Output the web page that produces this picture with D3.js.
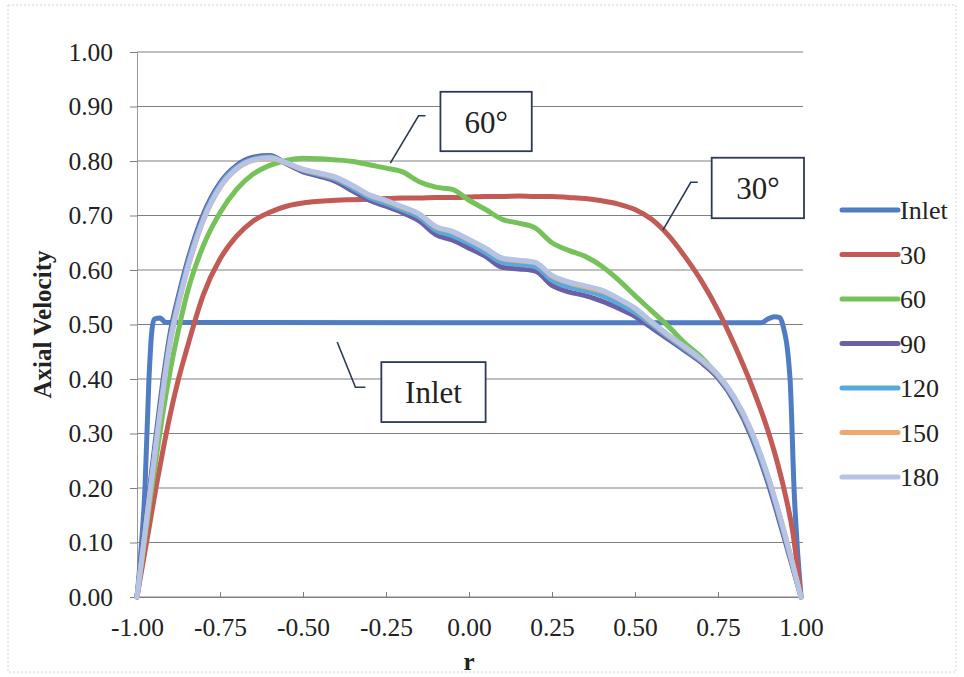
<!DOCTYPE html>
<html>
<head>
<meta charset="utf-8">
<script src="https://cdn.jsdelivr.net/npm/d3@7"></script>
<style>
  body { margin: 0; background: #fff; }
  svg { font-family: "Liberation Serif", "Times New Roman", serif; }
</style>
</head>
<body>
<svg id="chart" width="964" height="677"></svg>
<script>
// radial positions shared by the developed profiles
const rGrid = [-1, -0.98, -0.96, -0.94, -0.92, -0.9, -0.875, -0.85, -0.8, -0.75, -0.7, -0.65, -0.6, -0.55, -0.5, -0.45, -0.4, -0.35, -0.3, -0.25, -0.2, -0.15, -0.1, -0.05, 0, 0.05, 0.1, 0.15, 0.2, 0.25, 0.3, 0.35, 0.4, 0.45, 0.5, 0.55, 0.6, 0.65, 0.7, 0.75, 0.8, 0.85, 0.9, 0.925, 0.95, 0.975, 1];

const v30 = [0, 0.07, 0.14, 0.21, 0.275, 0.335, 0.4, 0.455, 0.555, 0.62, 0.662, 0.69, 0.706, 0.717, 0.723, 0.726, 0.728, 0.729, 0.73, 0.731, 0.732, 0.732, 0.733, 0.733, 0.734, 0.735, 0.735, 0.736, 0.735, 0.735, 0.733, 0.731, 0.727, 0.721, 0.711, 0.693, 0.664, 0.625, 0.58, 0.526, 0.462, 0.39, 0.306, 0.255, 0.195, 0.12, 0];
const v60 = [0, 0.09, 0.18, 0.265, 0.345, 0.415, 0.49, 0.555, 0.645, 0.705, 0.748, 0.776, 0.792, 0.801, 0.805, 0.804, 0.802, 0.799, 0.793, 0.787, 0.78, 0.762, 0.752, 0.748, 0.728, 0.711, 0.693, 0.686, 0.677, 0.65, 0.636, 0.625, 0.607, 0.582, 0.553, 0.525, 0.497, 0.466, 0.44, 0.405, 0.362, 0.302, 0.219, 0.169, 0.115, 0.059, 0];
const v90 = [0, 0.105, 0.21, 0.31, 0.405, 0.485, 0.553, 0.612, 0.703, 0.76, 0.792, 0.807, 0.81, 0.795, 0.78, 0.772, 0.762, 0.745, 0.728, 0.717, 0.705, 0.69, 0.665, 0.655, 0.64, 0.625, 0.605, 0.602, 0.598, 0.572, 0.56, 0.553, 0.543, 0.53, 0.515, 0.494, 0.473, 0.452, 0.43, 0.402, 0.358, 0.295, 0.21, 0.16, 0.107, 0.054, 0];
const v120 = [0, 0.1, 0.2, 0.298, 0.393, 0.475, 0.545, 0.605, 0.697, 0.756, 0.789, 0.804, 0.808, 0.796, 0.783, 0.775, 0.766, 0.75, 0.733, 0.722, 0.71, 0.697, 0.673, 0.663, 0.649, 0.632, 0.614, 0.61, 0.606, 0.581, 0.569, 0.562, 0.553, 0.539, 0.522, 0.5, 0.477, 0.455, 0.433, 0.405, 0.362, 0.3, 0.217, 0.167, 0.113, 0.057, 0];
const v150 = [0, 0.097, 0.195, 0.291, 0.384, 0.467, 0.537, 0.597, 0.691, 0.751, 0.785, 0.801, 0.805, 0.796, 0.784, 0.777, 0.769, 0.754, 0.737, 0.727, 0.715, 0.702, 0.679, 0.67, 0.655, 0.639, 0.621, 0.617, 0.613, 0.589, 0.577, 0.569, 0.561, 0.547, 0.529, 0.504, 0.48, 0.458, 0.435, 0.407, 0.365, 0.305, 0.222, 0.172, 0.118, 0.06, 0];
const v180 = [0, 0.098, 0.196, 0.292, 0.385, 0.468, 0.538, 0.598, 0.692, 0.752, 0.786, 0.802, 0.806, 0.797, 0.785, 0.778, 0.77, 0.755, 0.738, 0.728, 0.716, 0.703, 0.68, 0.671, 0.656, 0.64, 0.622, 0.618, 0.614, 0.59, 0.578, 0.571, 0.563, 0.548, 0.53, 0.505, 0.481, 0.459, 0.436, 0.408, 0.366, 0.306, 0.223, 0.173, 0.119, 0.061, 0];

// inlet profile needs its own finer points near the walls
const inletR = [-1, -0.99, -0.976, -0.964, -0.955, -0.948, -0.93, -0.915, 0, 0.88, 0.9, 0.92, 0.935, 0.945, 0.967, 0.979, 1];
const inletV = [0, 0.07, 0.2, 0.4, 0.49, 0.51, 0.512, 0.504, 0.503, 0.503, 0.51, 0.514, 0.513, 0.5, 0.4, 0.2, 0];

const seriesNames = ["Inlet", "30", "60", "90", "120", "150", "180"];
const seriesColors = ["#4f7cc4", "#c25a55", "#76c25a", "#6c5fa6", "#58a9dc", "#eeaa6e", "#b5c3e7"];

const xTicks = [-1, -0.75, -0.5, -0.25, 0, 0.25, 0.5, 0.75, 1];
const yTicks = [0, 0.1, 0.2, 0.3, 0.4, 0.5, 0.6, 0.7, 0.8, 0.9, 1];

// callouts: label, box corners [r0, v0, r1, v1], leader polyline in data units
const calloutLabels = ["60°", "30°", "Inlet"];
const calloutBoxes = [[-0.086, 0.927, 0.189, 0.818], [0.731, 0.806, 1.009, 0.695], [-0.264, 0.431, 0.05, 0.321]];
const calloutLeaders = [
  [[-0.131, 0.883], [-0.152, 0.883], [-0.237, 0.796]],
  [[0.689, 0.761], [0.668, 0.761], [0.584, 0.673]],
  [[-0.312, 0.385], [-0.342, 0.385], [-0.397, 0.468]]
];

const margin = { left: 137, right: 163, top: 52, bottom: 80 },
  width = 964,
  height = 677,
  x = d3.scaleLinear().domain([-1, 1]).range([margin.left, width - margin.right]),
  y = d3.scaleLinear().domain([0, 1]).range([height - margin.bottom, margin.top]),
  fmt = d => d3.format(".2f")(d).replace("\u2212", "-");

const svg = d3.select("#chart");

// faint frame of the scanned chart area
svg.append("rect")
  .attr("x", 8).attr("y", 5)
  .attr("width", 948).attr("height", 667)
  .attr("fill", "none")
  .attr("stroke", "#d4d4d4")
  .attr("stroke-dasharray", "2,2");

// horizontal gridlines + y axis
const yAxis = svg.append("g")
  .attr("transform", `translate(${margin.left},0)`)
  .call(d3.axisLeft(y).tickValues(yTicks).tickFormat(fmt).tickSize(7).tickPadding(17));
yAxis.select(".domain").attr("stroke", "#9a9a9a");
yAxis.selectAll(".tick line").attr("stroke", "#808080");
yAxis.selectAll(".tick text")
  .attr("font-size", 25.5)
  .attr("fill", "#222")
  .attr("font-family", "Liberation Serif, serif");

svg.append("g")
  .selectAll("line")
  .data(yTicks)
  .enter()
  .append("line")
  .attr("x1", margin.left)
  .attr("x2", x(1) + 2)
  .attr("y1", d => y(d))
  .attr("y2", d => y(d))
  .attr("stroke", "#808080")
  .attr("stroke-width", 1);

// x axis, tick marks point up into the plot
const xAxis = svg.append("g")
  .attr("transform", `translate(0,${y(0)})`)
  .call(d3.axisBottom(x).tickValues(xTicks).tickFormat(fmt).tickSize(-5).tickPadding(21));
xAxis.select(".domain").attr("stroke", "#808080");
xAxis.selectAll(".tick line").attr("stroke", "#808080");
xAxis.selectAll(".tick text")
  .attr("font-size", 25.5)
  .attr("fill", "#222")
  .attr("font-family", "Liberation Serif, serif");

svg.append("text")
  .attr("x", x(0))
  .attr("y", 670)
  .attr("text-anchor", "middle")
  .attr("font-size", 25)
  .attr("font-weight", "bold")
  .attr("fill", "#222")
  .text("r");

svg.append("text")
  .attr("transform", `translate(51,${y(0.5)}) rotate(-90)`)
  .attr("text-anchor", "middle")
  .attr("font-size", 25)
  .attr("font-weight", "bold")
  .attr("fill", "#222")
  .text("Axial Velocity");

// build point lists
const profiles = [
  inletR.map((r, i) => [r, inletV[i]]),
  ...[v30, v60, v90, v120, v150, v180].map(vals => rGrid.map((r, i) => [r, vals[i]]))
];

const line = d3.line()
  .x(d => x(d[0]))
  .y(d => y(d[1]))
  .curve(d3.curveMonotoneX);

svg.append("g")
  .selectAll("path")
  .data(profiles)
  .enter()
  .append("path")
  .attr("d", d => line(d))
  .attr("fill", "none")
  .attr("stroke", (d, i) => seriesColors[i])
  .attr("stroke-width", 5)
  .attr("stroke-linejoin", "round")
  .attr("stroke-linecap", "round");

// legend
const legendX = 842,
  legendTop = 210,
  legendStep = 44.5,
  legendLineLen = 56;

const legend = svg.append("g")
  .selectAll(".legend-item")
  .data(seriesNames)
  .enter()
  .append("g")
  .attr("class", "legend-item")
  .attr("transform", (d, i) => `translate(${legendX},${legendTop + i * legendStep})`);

legend.append("line")
  .attr("x1", 0)
  .attr("x2", legendLineLen)
  .attr("stroke", (d, i) => seriesColors[i])
  .attr("stroke-width", 5)
  .attr("stroke-linecap", "round");

legend.append("text")
  .attr("x", legendLineLen + 2)
  .attr("dy", "0.35em")
  .attr("font-size", 26)
  .attr("fill", "#222")
  .text(d => d);

// callout boxes with leader lines
const callouts = svg.append("g")
  .selectAll(".callout")
  .data(calloutLabels)
  .enter()
  .append("g")
  .attr("class", "callout");

callouts.append("polyline")
  .attr("points", (d, i) => calloutLeaders[i].map(p => `${x(p[0])},${y(p[1])}`).join(" "))
  .attr("fill", "none")
  .attr("stroke", "#2c3a55")
  .attr("stroke-width", 1.6);

callouts.append("rect")
  .attr("x", (d, i) => x(calloutBoxes[i][0]))
  .attr("y", (d, i) => y(calloutBoxes[i][1]))
  .attr("width", (d, i) => x(calloutBoxes[i][2]) - x(calloutBoxes[i][0]))
  .attr("height", (d, i) => y(calloutBoxes[i][3]) - y(calloutBoxes[i][1]))
  .attr("fill", "#fff")
  .attr("stroke", "#2c3a55")
  .attr("stroke-width", 1.8);

callouts.append("text")
  .attr("x", (d, i) => (x(calloutBoxes[i][0]) + x(calloutBoxes[i][2])) / 2)
  .attr("y", (d, i) => (y(calloutBoxes[i][1]) + y(calloutBoxes[i][3])) / 2)
  .attr("dy", "0.36em")
  .attr("text-anchor", "middle")
  .attr("font-size", 31)
  .attr("fill", "#222")
  .text(d => d);
</script>
</body>
</html>
